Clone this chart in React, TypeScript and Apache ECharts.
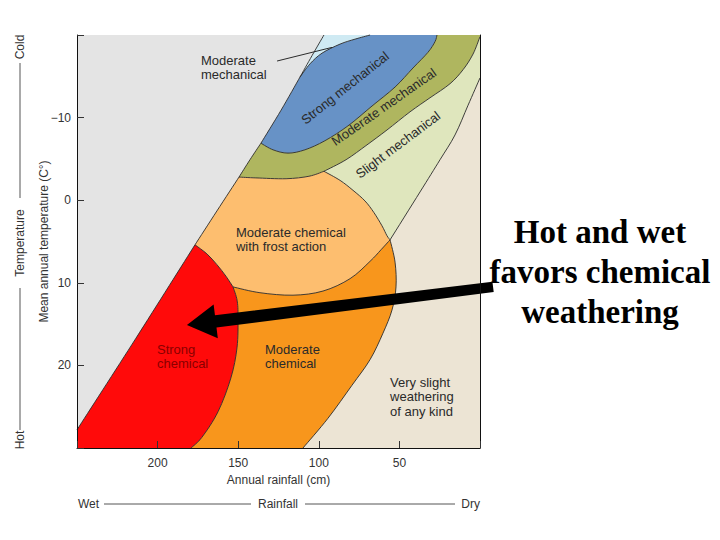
import React, { useEffect, useRef } from "react";
import * as echarts from "echarts";

// ---- axes ----
const rainMin = 0;
const rainMax = 250;
const tempMin = -20;
const tempMax = 30;
const rainTickLabels = [200, 150, 100, 50];
const tempTickLabels = [-10, 0, 10, 20];

// ---- region boundaries, [rainfall cm, mean annual temperature C] ----
const diagTop = [[96.8, -20], [104.2, -17.5], [111.7, -14.9]];
const diagBlue = [[111.7, -14.9], [123.4, -10.9], [135.9, -6.9]];
const diagOlive = [[135.9, -6.9], [142.7, -4.9], [149.5, -2.8]];
const diagLO = [[149.5, -2.8], [163.2, 1.3], [176.8, 5.4]];
const diagRed = [[176.8, 5.4], [213.4, 16.7], [250, 27.8]];
const cyanBlue = [[111.7, -14.9], [105.5, -16.5], [98.0, -17.8], [86.8, -18.9], [77.5, -19.5], [68.2, -20]];
const blueOlive = [[135.9, -6.9], [128.4, -6.1], [119.1, -5.7], [108.6, -6.1], [96.2, -7.2], [81.9, -9.0], [67.0, -11.4], [52.7, -13.7], [41.6, -16.0], [32.3, -17.9], [27.9, -19.2], [26.7, -20]];
const oliveLO = [[149.5, -2.8], [139.0, -2.7], [120.3, -2.6], [106.1, -2.9], [96.8, -3.5]];
const oliveLG = [[96.8, -3.5], [83.1, -4.9], [70.1, -6.7], [57.7, -8.5], [43.4, -10.7], [31.0, -12.4], [18.6, -14.1], [10.5, -15.8], [4.3, -17.7], [0, -19.8]];
const lgBeige = [[0, -14.8], [7.4, -11.5], [15.5, -7.9], [24.8, -4.9], [37.2, -1.0], [55.8, 4.8]];
const loLG = [[96.8, -3.5], [86.8, -2.4], [78.8, -1.2], [71.3, 0.1], [65.8, 1.5], [60.8, 3.1], [57.7, 4.3], [55.8, 4.8]];
const loOrange = [[55.8, 4.8], [61.4, 6.0], [68.2, 7.4], [80.6, 9.5], [97.4, 11.0], [116.0, 11.5], [136.5, 11.2], [153.2, 10.5]];
const loRed = [[153.2, 10.5], [157.6, 9.2], [163.2, 7.8], [169.4, 6.5], [176.8, 5.4]];
const redOrange = [[153.2, 10.5], [150.7, 12.1], [150.1, 14.1], [150.7, 17.8], [154.5, 21.5], [162.5, 25.6], [172.5, 28.7], [179.3, 30]];
const orangeBeige = [[55.8, 4.8], [52.7, 7.5], [52.1, 10.5], [54.6, 13.3], [60.2, 16.1], [68.2, 19.3], [79.4, 22.4], [94.3, 26.4], [109.8, 30]];
const leader = [[125.9, -16.85], [91.8, -18.5]];
const arrowTip = [181.8, 15.1];
const arrowTail = [-8.1, 10.5];

// ---- region labels ----
const labelTexts = [
  "Moderate\nmechanical",
  "Strong mechanical",
  "Moderate mechanical",
  "Slight mechanical",
  "Moderate chemical\nwith frost action",
  "Strong\nchemical",
  "Moderate\nchemical",
  "Very slight\nweathering\nof any kind",
];
const labelAnchors = [
  [173.1, -16.1],
  [83.7, -13.6],
  [59.6, -11.3],
  [50.9, -6.7],
  [151.4, 4.7],
  [200.4, 18.9],
  [133.4, 18.9],
  [55.8, 23.8],
];
const labelAngles = [0, 38.5, 35, 37, 0, 0, 0, 0];

const rev = (a: number[][]) => a.slice().reverse();

const C = {
  beige: "#ece4d4",
  gray: "#e4e4e4",
  cyan: "#cfeaf3",
  blue: "#6792c6",
  olive: "#afb65f",
  lightGreen: "#dfe6bd",
  lightOrange: "#fdbe6f",
  orange: "#f8961c",
  red: "#ff0a0a",
  line: "#2b2b2b",
  text: "#2a2a2a",
};

const regions = [
  { color: C.beige, edges: [[[rainMax, tempMin], [rainMin, tempMin]], [[rainMin, tempMin], [rainMin, tempMax]], [[rainMin, tempMax], [rainMax, tempMax]], [[rainMax, tempMax], [rainMax, tempMin]]] },
  { color: C.gray, edges: [[[rainMax, tempMin], [96.8, tempMin]], diagTop, diagBlue, diagOlive, diagLO, diagRed, [[rainMax, 27.8], [rainMax, tempMin]]] },
  { color: C.cyan, edges: [[[96.8, tempMin], [68.2, tempMin]], rev(cyanBlue), rev(diagTop)] },
  { color: C.blue, edges: [[[68.2, tempMin], [26.7, tempMin]], rev(blueOlive), rev(diagBlue), cyanBlue] },
  { color: C.olive, edges: [[[26.7, tempMin], [0, tempMin], [0, -19.8]], rev(oliveLG), rev(oliveLO), rev(diagOlive), blueOlive] },
  { color: C.lightGreen, edges: [oliveLG, [[0, -19.8], [0, -14.8]], lgBeige, rev(loLG)] },
  { color: C.lightOrange, edges: [oliveLO, loLG, loOrange, loRed, rev(diagLO)] },
  { color: C.orange, edges: [rev(loOrange), orangeBeige, [[109.8, tempMax], [179.3, tempMax]], rev(redOrange)] },
  { color: C.red, edges: [rev(loRed), redOrange, [[179.3, tempMax], [rainMax, tempMax], [rainMax, 27.8]], rev(diagRed)] },
];

const boundaries = [diagTop, diagBlue, diagOlive, diagLO, diagRed, cyanBlue, blueOlive, oliveLO, oliveLG, lgBeige, loLG, loOrange, loRed, redOrange, orangeBeige];

function isStraight(edge: number[][]): boolean {
  if (edge.length === 2) return true;
  for (let i = 1; i < edge.length; i++) {
    if (edge[i][0] !== edge[i - 1][0] && edge[i][1] !== edge[i - 1][1]) return false;
  }
  return true;
}

function buildPath(edges: number[][][], api: any, close: boolean): string {
  let d = "";
  edges.forEach((edge, ei) => {
    const p = edge.map((pt) => api.coord(pt));
    if (ei === 0) d += `M${p[0][0].toFixed(2)},${p[0][1].toFixed(2)}`;
    if (isStraight(edge)) {
      for (let i = 1; i < p.length; i++) d += `L${p[i][0].toFixed(2)},${p[i][1].toFixed(2)}`;
      return;
    }
    for (let i = 0; i < p.length - 1; i++) {
      const p0 = p[i - 1] || p[i];
      const p1 = p[i];
      const p2 = p[i + 1];
      const p3 = p[i + 2] || p[i + 1];
      const c1x = p1[0] + (p2[0] - p0[0]) / 6;
      const c1y = p1[1] + (p2[1] - p0[1]) / 6;
      const c2x = p2[0] - (p3[0] - p1[0]) / 6;
      const c2y = p2[1] - (p3[1] - p1[1]) / 6;
      d += `C${c1x.toFixed(2)},${c1y.toFixed(2)} ${c2x.toFixed(2)},${c2y.toFixed(2)} ${p2[0].toFixed(2)},${p2[1].toFixed(2)}`;
    }
  });
  return close ? d + "Z" : d;
}

const FONT = "'Liberation Sans', Arial, Helvetica, sans-serif";

function renderItem(_params: any, api: any) {
  const children: any[] = [];
  regions.forEach((r) => {
    children.push({
      type: "path",
      shape: { pathData: buildPath(r.edges, api, true) },
      style: { fill: r.color, stroke: "none", lineWidth: 0 },
      silent: true,
    });
  });
  boundaries.forEach((b) => {
    children.push({
      type: "path",
      shape: { pathData: buildPath([b], api, false) },
      style: { fill: "none", stroke: C.line, lineWidth: 0.9 },
      silent: true,
    });
  });
  const l0 = api.coord(leader[0]);
  const l1 = api.coord(leader[1]);
  children.push({
    type: "line",
    shape: { x1: l0[0], y1: l0[1], x2: l1[0], y2: l1[1] },
    style: { stroke: C.line, lineWidth: 1 },
    silent: true,
  });
  labelTexts.forEach((t, i) => {
    const p = api.coord(labelAnchors[i]);
    const rotated = labelAngles[i] !== 0;
    children.push({
      type: "text",
      x: p[0],
      y: p[1],
      rotation: (labelAngles[i] * Math.PI) / 180,
      style: {
        text: t,
        fill: i === 5 ? "#8a0000" : C.text,
        fontSize: 13,
        fontFamily: FONT,
        align: rotated ? "center" : "left",
        verticalAlign: "middle",
        lineHeight: i === 7 ? 14.5 : 14,
      },
      silent: true,
    });
  });
  // arrow
  const tip = api.coord(arrowTip);
  const tail = api.coord(arrowTail);
  const len = Math.hypot(tail[0] - tip[0], tail[1] - tip[1]);
  const ux = (tail[0] - tip[0]) / len;
  const uy = (tail[1] - tip[1]) / len;
  const px = -uy;
  const py = ux;
  const headLen = 29;
  const headHalf = 17;
  const shaftHead = 6.2;
  const shaftTail = 5.2;
  const hb = [tip[0] + ux * headLen, tip[1] + uy * headLen];
  children.push({
    type: "polygon",
    shape: {
      points: [
        tip,
        [hb[0] + px * headHalf, hb[1] + py * headHalf],
        [hb[0] + px * shaftHead, hb[1] + py * shaftHead],
        [tail[0] + px * shaftTail, tail[1] + py * shaftTail],
        [tail[0] - px * shaftTail, tail[1] - py * shaftTail],
        [hb[0] - px * shaftHead, hb[1] - py * shaftHead],
        [hb[0] - px * headHalf, hb[1] - py * headHalf],
      ],
    },
    style: { fill: "#000", stroke: "none" },
    silent: true,
  });
  return { type: "group", children };
}

const sideText = (text: string, x: number, y: number, rot: number, align: string) => ({
  type: "text",
  x,
  y,
  rotation: rot,
  style: { text, fill: "#333", fontSize: 12, fontFamily: FONT, align, verticalAlign: "middle" },
  silent: true,
});
const sideLine = (x1: number, y1: number, x2: number, y2: number) => ({
  type: "line",
  shape: { x1, y1, x2, y2 },
  style: { stroke: "#555", lineWidth: 1 },
  silent: true,
});

const option: any = {
  animation: false,
  backgroundColor: "#ffffff",
  grid: { left: 77, top: 35, width: 403, height: 413 },
  xAxis: {
    type: "value",
    min: rainMin,
    max: rainMax,
    interval: 50,
    inverse: true,
    position: "bottom",
    z: 10,
    axisLine: { show: true, onZero: false, lineStyle: { color: "#111", width: 1 } },
    axisTick: { show: true, inside: true, length: 7, lineStyle: { color: "#333" } },
    axisLabel: {
      formatter: (v: number) => (rainTickLabels.includes(v) ? String(v) : ""),
      color: "#333",
      fontSize: 12,
      fontFamily: FONT,
      margin: 9,
    },
    splitLine: { show: false },
    name: "Annual rainfall (cm)",
    nameLocation: "middle",
    nameGap: 26,
    nameMoveOverlap: false,
    nameTextStyle: { color: "#333", fontSize: 12, fontFamily: FONT },
  },
  yAxis: [
    {
      type: "value",
      min: tempMin,
      max: tempMax,
      interval: 10,
      inverse: true,
      position: "left",
      z: 10,
      axisLine: { show: true, onZero: false, lineStyle: { color: "#111", width: 1 } },
      axisTick: { show: true, inside: true, length: 7, lineStyle: { color: "#333" } },
      axisLabel: {
        formatter: (v: number) => (tempTickLabels.includes(v) ? (v < 0 ? "\u2212" + Math.abs(v) : String(v)) : ""),
        color: "#333",
        fontSize: 12,
        fontFamily: FONT,
        margin: 6,
      },
      splitLine: { show: false },
      name: "Mean annual temperature (C\u00b0)",
      nameLocation: "middle",
      nameGap: 27,
      nameMoveOverlap: false,
      nameTextStyle: { color: "#333", fontSize: 12, fontFamily: FONT },
    },
    {
      type: "value",
      min: tempMin,
      max: tempMax,
      inverse: true,
      position: "right",
      z: 10,
      axisLine: { show: true, onZero: false, lineStyle: { color: "#111", width: 1 } },
      axisTick: { show: false },
      axisLabel: { show: false },
      splitLine: { show: false },
    },
  ],
  series: [
    {
      type: "custom",
      coordinateSystem: "cartesian2d",
      xAxisIndex: 0,
      yAxisIndex: 0,
      data: [[125, 5]],
      clip: false,
      silent: true,
      renderItem,
    },
  ],
  graphic: [
    sideText("Cold", 20, 47, Math.PI / 2, "center"),
    sideLine(20, 63, 20, 198),
    sideText("Temperature", 20, 243, Math.PI / 2, "center"),
    sideLine(20, 288, 20, 430),
    sideText("Hot", 20, 440, Math.PI / 2, "center"),
    sideText("Wet", 78, 504, 0, "left"),
    sideLine(104, 504, 251, 504),
    sideText("Rainfall", 278, 504, 0, "center"),
    sideLine(305, 504, 455, 504),
    sideText("Dry", 480, 504, 0, "right"),
    {
      type: "text",
      x: 600,
      y: 272,
      style: {
        text: "Hot and wet\nfavors chemical\nweathering",
        fill: "#000",
        fontSize: 33,
        fontWeight: "bold",
        fontFamily: "'Liberation Serif', 'Times New Roman', serif",
        align: "center",
        verticalAlign: "middle",
        lineHeight: 40,
      },
      silent: true,
    },
  ],
};

export default function App() {
  const ref = useRef<HTMLDivElement>(null);
  useEffect(() => {
    const chart = echarts.init(ref.current!, null, { renderer: "svg" });
    chart.setOption(option);
    return () => chart.dispose();
  }, []);
  return (
    <div
      ref={ref}
      style={{ position: "fixed", left: 0, top: 0, width: 720, height: 540, background: "#fff" }}
    />
  );
}
